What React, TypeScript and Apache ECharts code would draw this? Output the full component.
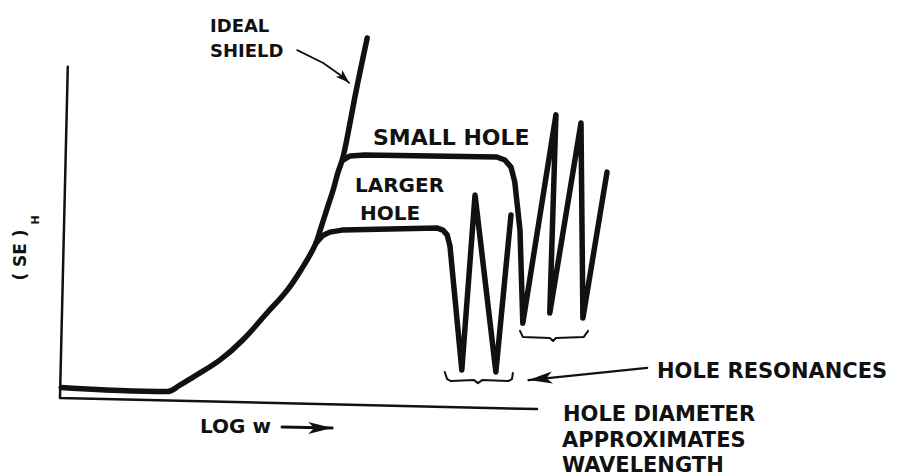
import React, { useEffect, useRef } from "react";
import * as echarts from "echarts";

// Schematic units: x = LOG w along the drawn axis (0..100), y = (SE)H (0..100)
const frameX = [0.8, -0.85, 100];
const frameY = [99.8, 1.5, -1.8];

const idealX = [-0.6, 21.8, 24.5, 27.3, 33.0, 37.8, 42.9, 47.2, 50.5, 53.1, 54.3, 55.6, 56.9, 57.9, 59.0, 60.3, 61.5, 62.8, 64.1];
const idealY = [4.6, 3.4, 5.3, 7.7, 12.8, 18.7, 26.7, 33.5, 40.4, 46.9, 51.9, 57.6, 63.2, 68.3, 73.0, 81.9, 90.8, 99.7, 108.3];

const largerX = [53.3, 54.6, 56.2, 58.8, 78.9, 80.1, 81.0, 81.6, 84.1, 86.9, 91.3, 94.5];
const largerY = [47.5, 49.6, 50.7, 51.3, 51.9, 51.3, 49.9, 46.6, 9.8, 61.7, 9.2, 55.8];

const smallX = [59.0, 60.5, 63.6, 91.5, 93.2, 94.5, 95.3, 96.4, 97.0, 104.0, 102.7, 109.3, 109.7, 114.8];
const smallY = [72.1, 73.3, 73.6, 73.0, 72.1, 70.0, 65.6, 51.3, 23.7, 85.5, 26.7, 83.1, 25.2, 68.5];

const brace1X = [80.5, 81.0, 81.8, 86.7, 87.5, 88.4, 93.9, 94.7, 94.9];
const brace1Y = [9.2, 7.1, 6.5, 6.8, 5.9, 6.8, 6.5, 7.1, 8.9];
const brace2X = [96.4, 97.0, 102.7, 103.4, 104.0, 109.9, 110.8];
const brace2Y = [21.4, 19.6, 19.3, 18.4, 19.3, 19.6, 21.4];

const shieldArrowX = [49.3, 54.8, 58.4, 60.3];
const shieldArrowY = [104.7, 100.9, 97.3, 95.0];
const resonanceArrowX = [123.3, 98.2];
const resonanceArrowY = [10.4, 6.8];
const logArrowX = [46.1, 56.7];
const logArrowY = [-7.1, -7.4];

// Visible extent of the drawing in the same units (whole 900x476 canvas)
const X_MIN = -13.53;
const X_MAX = 176.74;
const Y_MIN = -21.66;
const Y_MAX = 119.58;

const INK = "#111";
const FONT = '"DejaVu Sans", "Liberation Sans", sans-serif';

function pairs(xs: number[], ys: number[]) {
  return xs.map((x, i) => [x, ys[i]]);
}

function curve(name: string, xs: number[], ys: number[], width: number, smooth: number | boolean = false) {
  return {
    name,
    type: "line",
    data: pairs(xs, ys),
    showSymbol: false,
    symbol: "none",
    smooth,
    clip: false,
    silent: true,
    lineStyle: { color: INK, width, cap: "round", join: "round" },
  };
}

function arrow(name: string, xs: number[], ys: number[], width: number, headSize: number[], headRotate: number) {
  const pts = pairs(xs, ys);
  return {
    name,
    type: "line",
    clip: false,
    silent: true,
    showSymbol: true,
    symbol: "none",
    lineStyle: { color: INK, width, cap: "round", join: "round" },
    itemStyle: { color: INK },
    data: pts.map((p, i) =>
      i === pts.length - 1
        ? { value: p, symbol: "arrow", symbolSize: headSize, symbolRotate: headRotate, itemStyle: { color: INK } }
        : { value: p, symbol: "none" }
    ),
  };
}

function label(text: string, x: number, y: number, size: number, extra: any = {}) {
  return {
    type: "text",
    x,
    y,
    silent: true,
    ...extra,
    style: {
      text,
      fill: INK,
      font: `bold ${size}px ${FONT}`,
      textAlign: extra.align || "left",
      align: extra.align || "left",
      textVerticalAlign: "middle",
      verticalAlign: "middle",
    },
  };
}

export default function App() {
  const ref = useRef<HTMLDivElement>(null);
  useEffect(() => {
    if (!ref.current) return;
    const chart = echarts.init(ref.current, null, { renderer: "svg" });
    const hidden = {
      type: "value",
      axisLine: { show: false },
      axisTick: { show: false },
      axisLabel: { show: false },
      splitLine: { show: false },
    };
    chart.setOption({
      animation: false,
      backgroundColor: "#fff",
      grid: { left: 0, top: 0, right: 0, bottom: 0 },
      xAxis: { ...hidden, min: X_MIN, max: X_MAX },
      yAxis: { ...hidden, min: Y_MIN, max: Y_MAX },
      series: [
        curve("Axes", frameX, frameY, 2.5),
        curve("Ideal shield", idealX, idealY, 5.5, 0.4),
        curve("Larger hole", largerX, largerY, 5.5),
        curve("Small hole", smallX, smallY, 5.5),
        curve("Resonance brace 1", brace1X, brace1Y, 2),
        curve("Resonance brace 2", brace2X, brace2Y, 2),
        arrow("Ideal shield pointer", shieldArrowX, shieldArrowY, 1.8, [7, 14], -133),
        arrow("Hole resonances pointer", resonanceArrowX, resonanceArrowY, 2.2, [9, 24], 96),
        arrow("Log w direction", logArrowX, logArrowY, 3, [9, 24], -90),
      ],
      graphic: {
        elements: [
          label("IDEAL", 210, 25, 18),
          label("SHIELD", 210, 50, 18),
          label("SMALL HOLE", 373, 137, 22),
          label("LARGER", 355, 185, 20),
          label("HOLE", 360, 213, 20),
          label("HOLE RESONANCES", 657, 371, 21),
          label("HOLE DIAMETER", 563, 414, 21),
          label("APPROXIMATES", 562, 440, 21),
          label("WAVELENGTH", 562, 465, 21),
          label("LOG w", 200, 426, 20),
          label("( SE )", 20, 255, 17, { rotation: Math.PI / 2, align: "center" }),
          label("H", 35, 220, 11, { rotation: Math.PI / 2, align: "center" }),
        ],
      },
    });
    return () => chart.dispose();
  }, []);
  return (
    <div
      ref={ref}
      style={{ position: "fixed", left: 0, top: 0, width: 900, height: 476, background: "#fff" }}
    />
  );
}
